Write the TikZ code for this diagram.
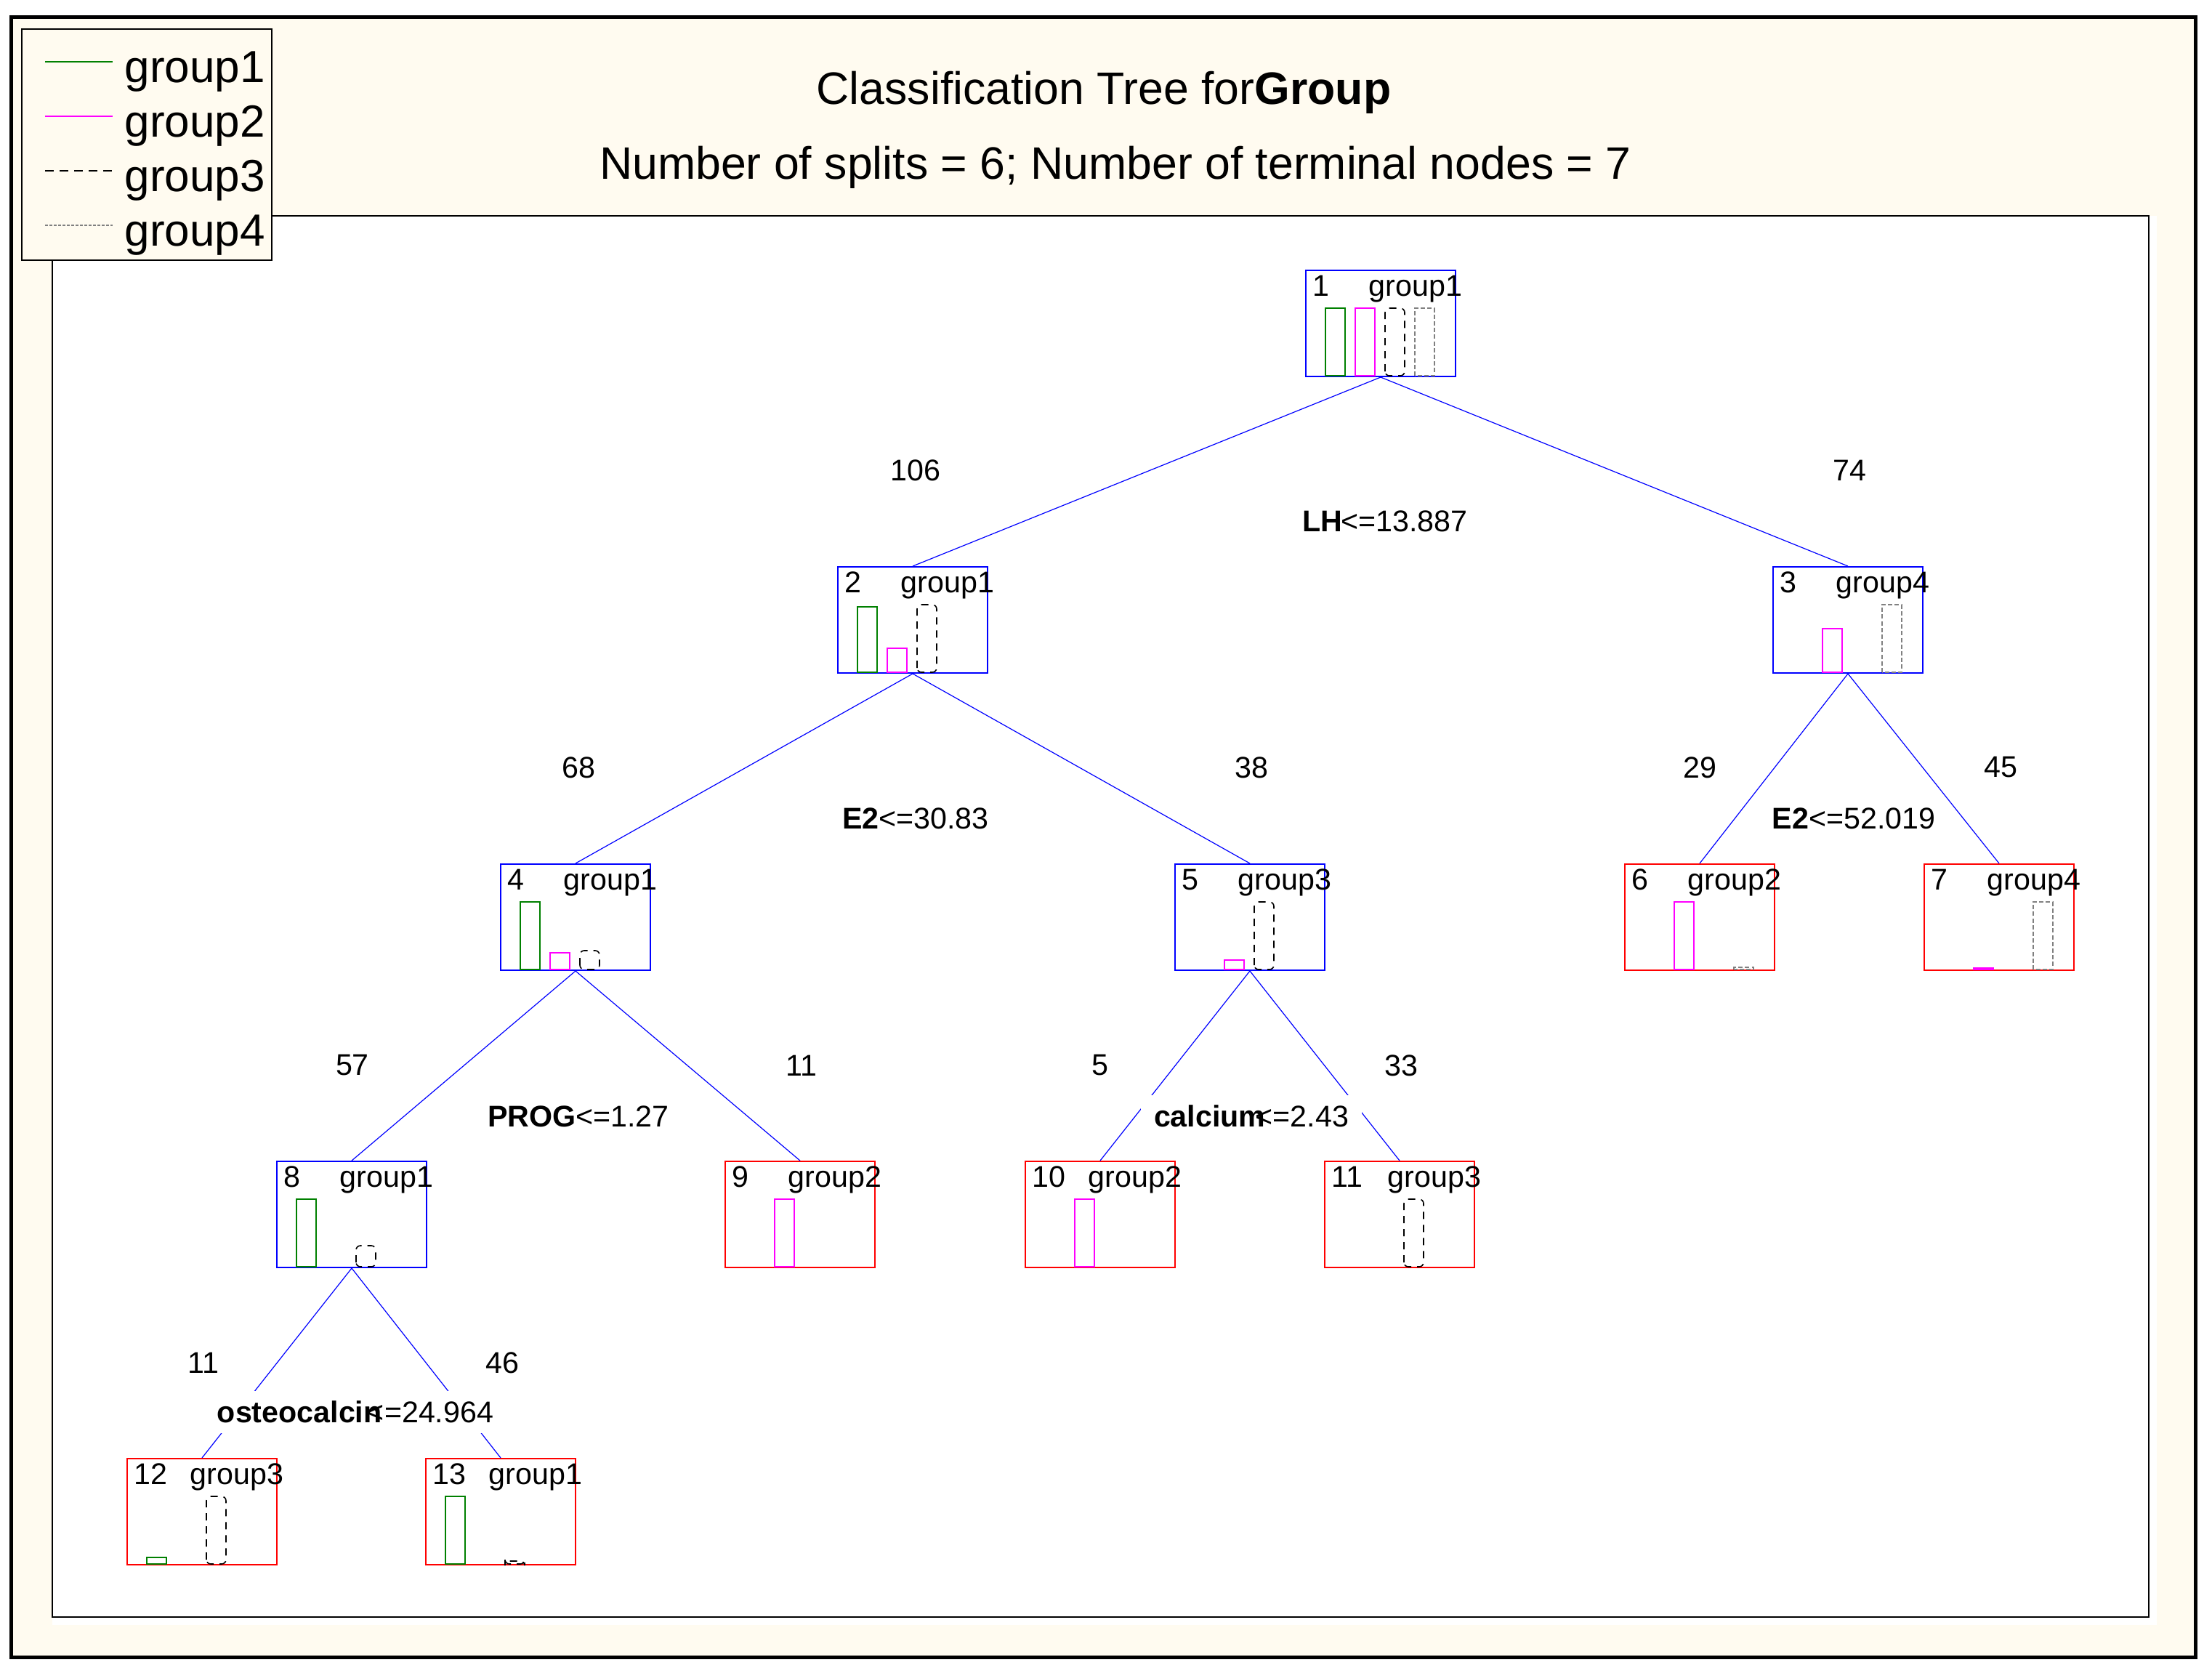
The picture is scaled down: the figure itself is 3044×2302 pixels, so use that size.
\documentclass[tikz,border=0pt]{standalone}
\usepackage{fontspec}
\setmainfont{Liberation Sans}
\definecolor{cream}{RGB}{255,251,240}
\definecolor{ggreen}{RGB}{0,128,0}
\definecolor{gmag}{RGB}{255,0,255}
\definecolor{ggray}{RGB}{128,128,128}
\tikzset{
  edge/.style={draw=blue, line width=0.3pt},
  inbox/.style={draw=blue, line width=0.5pt, minimum width=51.5pt, minimum height=36.5pt, inner sep=0pt, anchor=north},
  termbox/.style={inbox, draw=red},
  cnt/.style={font=\fontsize{10.3}{12}\selectfont, inner sep=0pt},
  split/.style={cnt, fill=white, inner xsep=4.5pt, inner ysep=3.5pt},
  g1/.style={draw=ggreen, line width=0.5pt},
  g2/.style={draw=gmag, line width=0.5pt},
  g3/.style={draw=black, line width=0.4pt, dash pattern=on 2.5pt off 2pt, rounded corners=1.5pt},
  g4/.style={draw=ggray, line width=0.45pt, dash pattern=on 1.5pt off 0.8pt},
  legtext/.style={font=\fontsize{15.5}{18}\selectfont, inner sep=0pt, anchor=base west},
  ttl/.style={font=\fontsize{15.65}{18}\selectfont, inner sep=0pt, anchor=base},
}
\newcommand\mybar[3]{\ifnum#3>0 \draw[#1] (#2,146) rectangle ++(27,-#3);\fi}
\newcommand\tcont[7]{%
  \begin{scope}[shift={(#1.north west)}]
    \node[cnt,anchor=base west] at (10,36) {#2};
    \node[cnt,anchor=base west] at (87,36) {#3};
    \mybar{g1}{28}{#4}\mybar{g2}{69}{#5}\mybar{g3}{110}{#6}\mybar{g4}{151}{#7}
  \end{scope}}
\newcommand\splab[2]{\rlap{\bfseries #1}\phantom{#1}#2}
\begin{document}
\begin{tikzpicture}[x=0.25pt, y=-0.25pt]
\useasboundingbox (0,0) rectangle (3044,2302);
% frame and plot area
\draw[line width=1.25pt, fill=cream] (15,23.5) rectangle (3021.5,2280.5);
\fill[white] (72,297) rectangle (2968,2236);
\draw[line width=0.35pt] (72,297) rectangle (2957,2225);
% titles
\node[ttl] (t1) at (1519,143) {Classification Tree for\textbf{Group}};
\node[ttl] (t2) at (1535,246) {Number of splits = 6; Number of terminal nodes = 7};
% tree nodes
\node[inbox] (n1) at (1900,371) {};
\node[inbox] (n2) at (1256,779) {};
\node[inbox] (n3) at (2543,779) {};
\node[inbox] (n4) at (792,1188) {};
\node[inbox] (n5) at (1720,1188) {};
\node[termbox] (n6) at (2339,1188) {};
\node[termbox] (n7) at (2751,1188) {};
\node[inbox] (n8) at (484,1597) {};
\node[termbox] (n9) at (1101,1597) {};
\node[termbox] (n10) at (1514,1597) {};
\node[termbox] (n11) at (1926,1597) {};
\node[termbox] (n12) at (278,2006) {};
\node[termbox] (n13) at (689,2006) {};
% edges
\draw[edge] (n1.south) -- (n2.north);
\draw[edge] (n1.south) -- (n3.north);
\draw[edge] (n2.south) -- (n4.north);
\draw[edge] (n2.south) -- (n5.north);
\draw[edge] (n3.south) -- (n6.north);
\draw[edge] (n3.south) -- (n7.north);
\draw[edge] (n4.south) -- (n8.north);
\draw[edge] (n4.south) -- (n9.north);
\draw[edge] (n5.south) -- (n10.north);
\draw[edge] (n5.south) -- (n11.north);
\draw[edge] (n8.south) -- (n12.north);
\draw[edge] (n8.south) -- (n13.north);
% node contents
\tcont{n1}{1}{group1}{93}{93}{93}{93}
\tcont{n2}{2}{group1}{90}{33}{93}{0}
\tcont{n3}{3}{group4}{0}{60}{0}{93}
\tcont{n4}{4}{group1}{93}{23}{26}{0}
\tcont{n5}{5}{group3}{0}{13}{93}{0}
\tcont{n6}{6}{group2}{0}{93}{0}{3}
\tcont{n7}{7}{group4}{0}{2}{0}{93}
\tcont{n8}{8}{group1}{93}{0}{29}{0}
\tcont{n9}{9}{group2}{0}{93}{0}{0}
\tcont{n10}{10}{group2}{0}{93}{0}{0}
\tcont{n11}{11}{group3}{0}{0}{93}{0}
\tcont{n12}{12}{group3}{9}{0}{93}{0}
\tcont{n13}{13}{group1}{93}{0}{4}{0}
% counts
\node[cnt] (c2) at (1260,647) {106};
\node[cnt] (c3) at (2545,647) {74};
\node[cnt] (c4) at (796,1056) {68};
\node[cnt] (c5) at (1722,1056) {38};
\node[cnt] (c6) at (2339,1056) {29};
\node[cnt] (c7) at (2753,1056) {45};
\node[cnt] (c8) at (485,1466) {57};
\node[cnt] (c9) at (1103,1466) {11};
\node[cnt] (c10) at (1514,1466) {5};
\node[cnt] (c11) at (1928,1466) {33};
\node[cnt] (c12) at (280,1875) {11};
\node[cnt] (c13) at (691,1875) {46};
% split labels
\node[split] (s1) at (1906,717) {\splab{LH}{<=13.887}};
\node[split] (s2) at (1260,1126) {\splab{E2}{<=30.83}};
\node[split, inner xsep=2pt] (s3) at (2551,1126) {\splab{E2}{<=52.019}};
\node[split] (s4) at (796,1536) {\splab{PROG}{<=1.27}};
\node[split] (s5) at (1722,1536) {\splab{calcium}{<=2.43}};
\node[split] (s8) at (489,1943) {\splab{osteocalcin}{<=24.964}};
% legend
\node[draw=black, fill=cream, line width=0.4pt, minimum width=86pt, minimum height=79.5pt, anchor=north west, inner sep=0pt] (leg) at (29,39) {};
\draw[draw=ggreen, line width=0.3pt] (62,85) -- (155,85);
\draw[draw=gmag, line width=0.3pt] (62,160) -- (155,160);
\draw[draw=black, line width=0.3pt, dash pattern=on 3pt off 2pt] (62,235) -- (155,235);
\draw[draw=ggray, line width=0.3pt, dash pattern=on 1pt off 0.5pt] (62,310) -- (155,310);
\node[legtext] (l1) at (171,113) {group1};
\node[legtext] (l2) at (171,188) {group2};
\node[legtext] (l3) at (171,263) {group3};
\node[legtext] (l4) at (171,338) {group4};
\end{tikzpicture}
\end{document}
